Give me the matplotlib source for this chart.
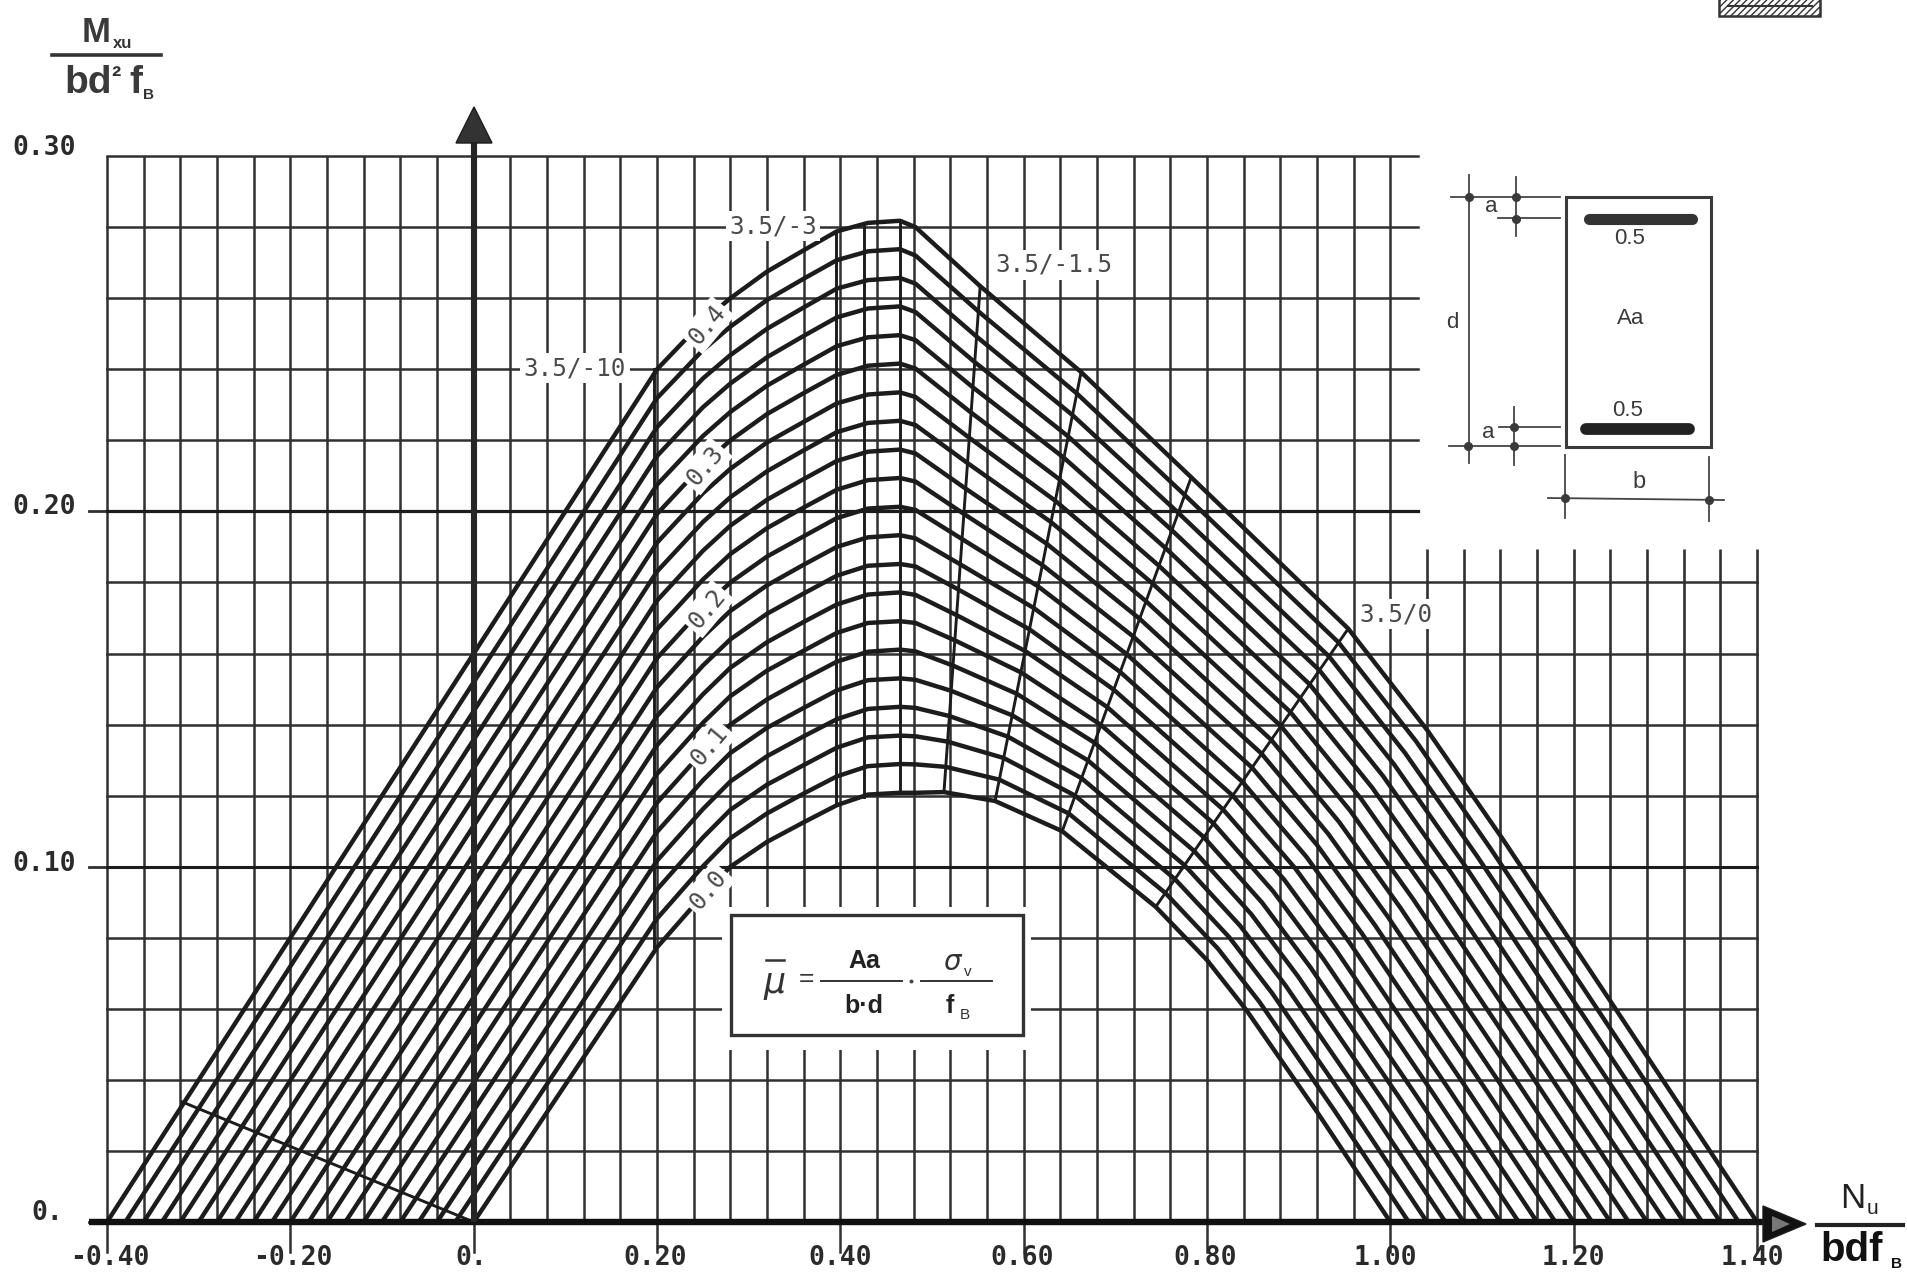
import matplotlib
matplotlib.use("Agg")
import matplotlib.pyplot as plt
from matplotlib.patches import Rectangle, Polygon

W, H = 1907, 1279
INK = "#1c1c1c"
GRID = "#303030"
MONO = "DejaVu Sans Mono"

# ---------- tick labels and grid values ----------
x_tick_values = [-0.40, -0.20, 0.0, 0.20, 0.40, 0.60, 0.80, 1.00, 1.20, 1.40]
x_tick_labels = ["-0.40", "-0.20", "0.", "0.20", "0.40", "0.60", "0.80", "1.00", "1.20", "1.40"]
y_tick_values = [0.0, 0.10, 0.20, 0.30]
y_tick_labels = ["0.", "0.10", "0.20", "0.30"]
grid_x_tall = [-0.40, -0.36, -0.32, -0.28, -0.24, -0.20, -0.16, -0.12, -0.08, -0.04, 0.0,
               0.04, 0.08, 0.12, 0.16, 0.20, 0.24, 0.28, 0.32, 0.36, 0.40, 0.44, 0.48,
               0.52, 0.56, 0.60, 0.64, 0.68, 0.72, 0.76, 0.80, 0.84, 0.88, 0.92, 0.96, 1.00]
grid_x_short = [1.04, 1.08, 1.12, 1.16, 1.20, 1.24, 1.28, 1.32, 1.36, 1.40]
grid_y_long = [0.02, 0.04, 0.06, 0.08, 0.10, 0.12, 0.14, 0.16, 0.18]
grid_y_short = [0.20, 0.22, 0.24, 0.26, 0.28, 0.30]
grid_y_major = [0.0, 0.10, 0.20]

# ---------- curves: one entry per reinforcement ratio 0.00 ... 0.40 ----------
mu_labels = ["0.0", "0.1", "0.2", "0.3", "0.4"]
foot_left = [0.00, -0.02, -0.04, -0.06, -0.08, -0.10, -0.12, -0.14, -0.16, -0.18, -0.20,
             -0.22, -0.24, -0.26, -0.28, -0.30, -0.32, -0.34, -0.36, -0.38, -0.40]
foot_right = [1.00, 1.02, 1.04, 1.06, 1.08, 1.10, 1.12, 1.14, 1.16, 1.18, 1.20,
              1.22, 1.24, 1.26, 1.28, 1.30, 1.32, 1.34, 1.36, 1.38, 1.40]
left_x = [0.20, 0.25, 0.28, 0.32, 0.36, 0.396, 0.43, 0.465, 0.482]
y_020 = [.0773,.0854,.0936,.1017,.1098,.1180,.1261,.1342,.1424,.1505,.1587,.1668,.1749,.1831,.1912,.1993,.2075,.2156,.2237,.2319,.2400]
y_025 = [.0920,.1001,.1082,.1162,.1243,.1324,.1405,.1485,.1566,.1647,.1728,.1808,.1889,.1970,.2051,.2131,.2212,.2293,.2374,.2454,.2535]
y_028 = [.1000,.1080,.1160,.1240,.1320,.1400,.1480,.1560,.1640,.1720,.1800,.1880,.1960,.2040,.2120,.2200,.2280,.2360,.2440,.2520,.2600]
y_032 = [.1070,.1150,.1231,.1311,.1391,.1471,.1552,.1632,.1712,.1792,.1873,.1953,.2033,.2113,.2194,.2274,.2354,.2434,.2514,.2595,.2675]
y_036 = [.1125,.1206,.1286,.1367,.1447,.1528,.1608,.1689,.1769,.1850,.1930,.2011,.2091,.2172,.2252,.2333,.2413,.2494,.2574,.2655,.2735]
y_040 = [.1173,.1254,.1335,.1415,.1496,.1577,.1658,.1738,.1819,.1900,.1981,.2061,.2142,.2223,.2304,.2384,.2465,.2546,.2627,.2707,.2788]
y_043 = [.1203,.1283,.1364,.1444,.1525,.1605,.1686,.1766,.1847,.1927,.2008,.2088,.2168,.2249,.2329,.2410,.2490,.2571,.2651,.2732,.2812]
y_047 = [.1208,.1289,.1369,.1450,.1530,.1611,.1691,.1772,.1852,.1933,.2013,.2094,.2174,.2255,.2335,.2416,.2496,.2577,.2657,.2738,.2818]
y_048 = [.1208,.1288,.1367,.1447,.1526,.1606,.1686,.1765,.1845,.1924,.2004,.2084,.2163,.2243,.2322,.2402,.2482,.2561,.2641,.2720,.2800]
x_b = [.5130,.5150,.5170,.5189,.5209,.5229,.5249,.5268,.5288,.5308,.5328,.5347,.5367,.5387,.5407,.5426,.5446,.5466,.5486,.5505,.5525]
y_b = [.1210,.1281,.1352,.1424,.1495,.1566,.1637,.1708,.1780,.1851,.1922,.1993,.2064,.2136,.2207,.2278,.2349,.2420,.2492,.2563,.2634]
x_c = [.5687,.5734,.5781,.5828,.5875,.5922,.5969,.6016,.6063,.6110,.6157,.6203,.6250,.6297,.6344,.6391,.6438,.6485,.6532,.6579,.6626]
y_c = [.1185,.1245,.1306,.1366,.1426,.1487,.1547,.1607,.1668,.1728,.1789,.1849,.1909,.1970,.2030,.2090,.2151,.2211,.2271,.2332,.2392]
x_d = [.6420,.6490,.6561,.6631,.6701,.6772,.6842,.6912,.6983,.7053,.7124,.7194,.7264,.7335,.7405,.7475,.7546,.7616,.7686,.7757,.7827]
y_d = [.1100,.1150,.1200,.1249,.1299,.1349,.1399,.1449,.1498,.1548,.1598,.1648,.1698,.1747,.1797,.1847,.1897,.1947,.1996,.2046,.2096]
x_e = [.7440,.7545,.7650,.7755,.7860,.7965,.8070,.8175,.8280,.8385,.8490,.8595,.8700,.8805,.8910,.9015,.9120,.9225,.9330,.9435,.9540]
y_e = [.0887,.0926,.0965,.1004,.1044,.1083,.1122,.1161,.1200,.1239,.1279,.1318,.1357,.1396,.1435,.1474,.1513,.1553,.1592,.1631,.1670]
x_h = [.8000,.8120,.8240,.8360,.8480,.8600,.8720,.8840,.8960,.9080,.9200,.9320,.9440,.9560,.9680,.9800,.9920,1.0040,1.0160,1.0280,1.0400]
y_h = [.0737,.0769,.0802,.0834,.0867,.0899,.0931,.0964,.0996,.1029,.1061,.1093,.1126,.1158,.1191,.1223,.1255,.1288,.1320,.1353,.1385]
x_f = [.8430,.8570,.8710,.8850,.8990,.9130,.9270,.9410,.9550,.9690,.9830,.9970,1.0110,1.0250,1.0390,1.0530,1.0670,1.0810,1.0950,1.1090,1.1230]
y_f = [.0596,.0620,.0644,.0668,.0692,.0716,.0740,.0764,.0788,.0812,.0836,.0860,.0884,.0908,.0932,.0956,.0980,.1004,.1028,.1052,.1076]
x_g = [.9210,.9389,.9568,.9747,.9926,1.0105,1.0284,1.0463,1.0642,1.0821,1.1000,1.1179,1.1358,1.1537,1.1716,1.1895,1.2074,1.2253,1.2432,1.2611,1.2790]
y_g = [.0306,.0314,.0322,.0331,.0339,.0347,.0355,.0363,.0372,.0380,.0388,.0396,.0404,.0413,.0421,.0429,.0437,.0445,.0454,.0462,.0470]

# ---------- strain limit lines ----------
limit_x = [[-0.318, 0.0], [0.197, 0.197], [0.3953, 0.3953], [0.4255, 0.4255], [0.465, 0.465],
           [0.5525, 0.513], [0.6626, 0.5687], [0.7827, 0.642], [0.954, 0.744]]
limit_y = [[0.0338, 0.0], [0.24, 0.0773], [0.2788, 0.1173], [0.2806, 0.1196], [0.2818, 0.1208],
           [0.2634, 0.121], [0.2392, 0.1185], [0.2096, 0.11], [0.167, 0.0887]]

# ---------- drawing ----------
fig = plt.figure(figsize=(W / 100, H / 100), dpi=100, facecolor="white")
ax = fig.add_axes([0, 0, 1, 1])
ax.set_xlim((0 - 473.7) / 916.7, (W - 473.7) / 916.7)
ax.set_ylim((1222 - H) / 3553, 1222 / 3553)
ax.axis("off")

for v in grid_x_tall:
    ax.plot([v, v], [0, 0.30], color=GRID, lw=1.8, zorder=1, solid_capstyle="butt")
for v in grid_x_short:
    ax.plot([v, v], [0, 0.1894], color=GRID, lw=1.9, zorder=1, solid_capstyle="butt")
for v in grid_y_long:
    ax.plot([-0.40, 1.40], [v, v], color=GRID, lw=1.8, zorder=1)
for v in grid_y_short:
    ax.plot([-0.40, 1.03], [v, v], color=GRID, lw=1.8, zorder=1)
for v in grid_y_major:
    ax.plot([-0.42, -0.40], [v, v], color=GRID, lw=2.0, zorder=1)
ax.plot([-0.40, 1.03], [0.20, 0.20], color=INK, lw=2.3, zorder=1)
ax.plot([-0.40, 1.40], [0.10, 0.10], color=INK, lw=2.2, zorder=1)
for v in x_tick_values:
    ax.plot([v, v], [0, -0.0085], color=GRID, lw=1.8, zorder=1)

for xs, ys in zip(limit_x, limit_y):
    ax.plot(xs, ys, color=INK, lw=2.1, zorder=2)

for k in range(len(foot_left)):
    xs = [foot_left[k]] + left_x + [x_b[k], x_c[k], x_d[k], x_e[k], x_h[k], x_f[k], x_g[k], foot_right[k]]
    ys = [0.0, y_020[k], y_025[k], y_028[k], y_032[k], y_036[k], y_040[k], y_043[k], y_047[k], y_048[k],
          y_b[k], y_c[k], y_d[k], y_e[k], y_h[k], y_f[k], y_g[k], 0.0]
    ax.plot(xs, ys, color=INK, lw=3.2, zorder=3, solid_joinstyle="round")

# thick axes
ax.plot([-0.42, 1.41], [0, 0], color="#111111", lw=4.6, zorder=4, solid_capstyle="butt")
ax.plot([0, 0], [0, 0.31], color="#262626", lw=4.4, zorder=4, solid_capstyle="butt")

# overlay in picture coordinates for annotation
ov = fig.add_axes([0, 0, 1, 1], facecolor="none")
ov.set_xlim(0, W)
ov.set_ylim(H, 0)
ov.axis("off")

ov.add_patch(Polygon([[474, 107], [456, 143], [492, 143]], closed=True, fc="#333333", ec=INK, lw=1))
ov.add_patch(Polygon([[1806, 1224], [1763, 1206], [1763, 1242]], closed=True, fc="#111111", ec=INK, lw=1))
ov.add_patch(Polygon([[1772, 1216], [1790, 1224], [1772, 1232]], closed=True, fc="#777777", ec="none"))


def tick_text(px, py, s, ha="center"):
    ov.text(px, py, s, family=MONO, weight="bold", fontsize=19, color="#2a2a2a", ha=ha, va="center")


y_tick_px = [1213, 864, 507, 148]
y_tick_right = [63, 76, 76, 76]
for s, py, pr in zip(y_tick_labels, y_tick_px, y_tick_right):
    tick_text(pr, py, s, ha="right")
x_tick_px = [110, 293, 471, 655, 840, 1022, 1205, 1385, 1573, 1752]
for s, px in zip(x_tick_labels, x_tick_px):
    tick_text(px, 1258, s)


def label(px, py, s, rot=0):
    ov.text(px, py, s, family=MONO, fontsize=17.5, color="#4a4a4a", ha="center", va="center", rotation=rot,
            bbox=dict(fc="white", ec="none", pad=2.5))


label(773, 226, "3.5/-3")
label(1054, 265, "3.5/-1.5")
label(575, 368, "3.5/-10")
label(1396, 614, "3.5/0")
mu_px = [(708, 890), (709, 746), (707, 609), (705, 466), (707, 325)]
for s, (px, py) in zip(mu_labels, mu_px):
    label(px, py, s, rot=50)

# formula box
ov.add_patch(Rectangle((722, 907), 309, 143, fc="white", ec="none"))
ov.add_patch(Rectangle((731, 915), 292, 120, fc="white", ec="#333333", lw=2.4))
SANS = "Liberation Sans"
ov.text(775, 983, "\u03bc", family="DejaVu Sans", style="italic", fontsize=25, color="#333333", ha="center", va="center")
ov.plot([766, 784], [960, 960], color="#333333", lw=1.8)
ov.text(806, 979, "=", family=SANS, fontsize=19, color="#333333", ha="center", va="center")
ov.plot([821, 902], [981, 981], color="#333333", lw=1.4)
ov.text(864, 961, "Aa", family=SANS, weight="bold", fontsize=18, color="#222222", ha="center", va="center")
ov.text(864, 1006, "b\u00b7d", family=SANS, weight="bold", fontsize=18, color="#222222", ha="center", va="center")
ov.plot([911], [981], marker="o", ms=1.8, color="#444444")
ov.plot([921, 992], [981, 981], color="#333333", lw=1.4)
ov.text(952, 962, "\u03c3", family="DejaVu Sans", style="italic", fontsize=20, color="#333333", ha="center", va="center")
ov.text(968, 972, "v", family=SANS, fontsize=11, color="#333333", ha="center", va="center")
ov.text(950, 1006, "f", family=SANS, weight="bold", fontsize=18, color="#222222", ha="center", va="center")
ov.text(965, 1015, "B", family=SANS, fontsize=11, color="#333333", ha="center", va="center")

# axis captions
ov.text(96, 32, "M", family=SANS, weight="bold", fontsize=25, color="#3a3a3a", ha="center", va="center")
ov.text(123, 44, "xu", family=SANS, weight="bold", fontsize=12, color="#333333", ha="center", va="center")
ov.plot([52, 161], [55, 55], color="#333333", lw=2.6)
ov.text(88, 83, "bd", family=SANS, weight="bold", fontsize=28, color="#3a3a3a", ha="center", va="center")
ov.text(116, 78, "\u00b2", family=SANS, weight="bold", fontsize=20, color="#333333", ha="center", va="center")
ov.text(136, 83, "f", family=SANS, weight="bold", fontsize=28, color="#3a3a3a", ha="center", va="center")
ov.text(149, 95, "B", family=SANS, weight="bold", fontsize=11, color="#333333", ha="center", va="center")

ov.text(1853, 1198, "N", family=SANS, fontsize=25, color="#222222", ha="center", va="center")
ov.text(1873, 1209, "u", family=SANS, fontsize=15, color="#222222", ha="center", va="center")
ov.plot([1817, 1903], [1225, 1225], color="#222222", lw=3)
ov.text(1852, 1250, "bdf", family=SANS, weight="bold", fontsize=29, color="#111111", ha="center", va="center")
ov.text(1896, 1264, "B", family=SANS, weight="bold", fontsize=11, color="#111111", ha="center", va="center")

# section sketch
SK = "#444444"
ov.add_patch(Rectangle((1566, 197), 145, 250, fc="white", ec="#3a3a3a", lw=2.2))
ov.plot([1589, 1692], [219, 219], color="#333333", lw=8, solid_capstyle="round")
ov.plot([1586, 1689], [429, 429], color="#222222", lw=8.5, solid_capstyle="round")
for px, py, s, fs in [(1630, 238, "0.5", 16), (1628, 410, "0.5", 16), (1631, 318, "Aa", 16),
                      (1491, 206, "a", 16), (1488, 433, "a", 16), (1452, 322, "d", 16), (1639, 482, "b", 17)]:
    ov.text(px, py, s, family=SANS, fontsize=fs, color="#3a3a3a", ha="center", va="center")
sketch_lines = [((1469, 1469), (175, 463)), ((1451, 1560), (197, 197)), ((1498, 1560), (218, 218)),
                ((1499, 1560), (427, 427)), ((1449, 1560), (446, 446)), ((1516, 1516), (177, 236)),
                ((1514, 1514), (407, 465)), ((1565, 1565), (455, 518)), ((1709, 1709), (457, 521)),
                ((1548, 1724), (498, 500))]
for xs, ys in sketch_lines:
    ov.plot(xs, ys, color=SK, lw=1.3)
sketch_dots = [(1469, 197), (1516, 197), (1516, 219), (1514, 427), (1514, 446), (1468, 446), (1565, 498), (1709, 500)]
for px, py in sketch_dots:
    ov.plot([px], [py], marker="o", ms=5.5, color="#3a3a3a")

# fragment of a hatched box at the top edge
ov.add_patch(Rectangle((1719, -3), 101, 19, fc="white", ec="#333333", lw=1.8, hatch="/////"))
ov.plot([1728, 1812], [6, 6], color="#333333", lw=1.5)

fig.savefig("out.png", dpi=100, facecolor="white")
